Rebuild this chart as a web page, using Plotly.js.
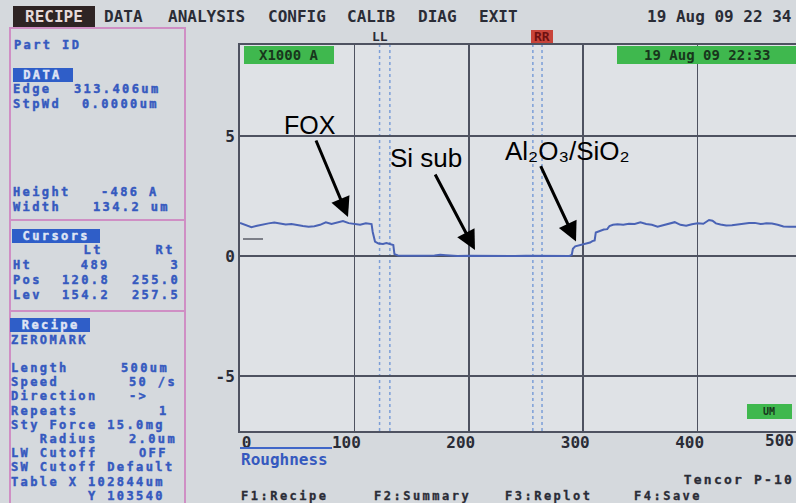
<!DOCTYPE html>
<html><head><meta charset="utf-8">
<script src="https://cdn.plot.ly/plotly-3.0.1.min.js"></script>
<style>html,body{margin:0;padding:0;background:#d5d9dd;overflow:hidden}</style>
</head><body><div id="chart" style="width:796px;height:503px"></div>
<script>
// ---- data ----
const profileX = [0,5,10,15,20,25,30,35,40,45,50,55,60,65,70,75,80,85,90,95,100,105,110,115,116,118,121,125,128,131,134,135,138,142,150,160,170,175,180,190,200,210,220,230,240,250,260,270,280,288,290,291,293,297,300,303,306,308,310,311,314,318,321,323,326,330,335,340,345,350,355,360,365,370,375,380,385,390,395,400,405,410,413,416,420,425,430,435,440,445,450,455,460,465,470,475,480,485,490];
const profileY = [1.38,1.30,1.20,1.26,1.32,1.36,1.40,1.35,1.31,1.33,1.28,1.25,1.22,1.24,1.30,1.40,1.33,1.38,1.46,1.37,1.34,1.30,1.36,1.33,1.00,0.60,0.52,0.50,0.54,0.50,0.46,0.08,0.02,0.01,0.00,0.01,0.02,0.05,0.03,0.00,0.01,0.00,0.01,0.00,0.00,0.01,0.00,0.01,0.00,0.00,0.05,0.30,0.40,0.44,0.47,0.52,0.56,0.62,0.65,0.98,1.04,1.10,1.12,1.25,1.30,1.32,1.30,1.34,1.33,1.40,1.33,1.30,1.22,1.28,1.37,1.41,1.30,1.26,1.32,1.36,1.34,1.50,1.47,1.36,1.31,1.27,1.28,1.32,1.34,1.37,1.38,1.33,1.36,1.35,1.30,1.23,1.22,1.23,1.22];
const xTickVals = [0,100,200,300,400];
const xTickText = ["\u00a0\u00a0\u00a00","100","200","300","400"];
const yTickVals = [-5,0,5];
const yTickText = ["-5","0","5"];
const cursorX = [122,131,256,264];
const cursorLabels = ["LL","RR"];
const calloutText = ["FOX","Si sub","Al\u2082O\u2083/SiO\u2082"];
const calloutHeadX = [94.4,205.4,293.7];
const calloutHeadY = [1.63,0.25,0.60];
const menuItems = ["RECIPE","DATA","ANALYSIS","CONFIG","CALIB","DIAG","EXIT"];
const dateText = "19 Aug 09 22 34";
const plotDate = "19 Aug 09 22:33";
const scaleLabel = "X1000 A";
const unitLabel = "UM";
const dataRows = [["Edge","313.406um"],["StpWd","0.0000um"]];
const sizeRows = [["Height","-486 A"],["Width","134.2 um"]];
const cursorRows = [["Ht","489","3"],["Pos","120.8","255.0"],["Lev","154.2","257.5"]];
const recipeName = "ZEROMARK";
const recipeRows = [["Length","500um"],["Speed","50 /s"],["Direction","->"],["Repeats","1"],["Sty Force 15.0mg",""],["   Radius","2.0um"],["LW Cutoff","OFF"],["SW Cutoff Default",""],["Table X 102844um",""],["        Y 103540",""]];
const fKeys = ["F1:Recipe","F2:Summary","F3:Replot","F4:Save"];

// ---- layout helpers (pixel -> paper) ----
const L=240, T=45, W=556, H=386;
const px = x => (x-L)/W;
const py = y => (T+H-y)/H;
const MONO = '"DejaVu Sans Mono", "Liberation Mono", monospace';
const BLUE = '#3559bf', DARK = '#2a2c36', GRID = '#4e5260';
function f(size,color,weight){return {family:MONO,size:size,color:color,weight:weight||'bold'};}
const spaced = []; // [annotation index, letter spacing px, stroke px]
const ann=[], shapes=[];
function txt(text,x,y,font,o,ls,sw){
  const a=Object.assign({xref:'paper',yref:'paper',x:px(x),y:py(y),text:text,showarrow:false,xanchor:'left',yanchor:'middle',font:font,borderpad:0},o||{});
  a.align=a.xanchor;
  if(ls||sw) spaced.push([ann.length,ls||0,sw||0]);
  ann.push(a);
}
function rect(x0,y0,x1,y1,fill,line){return {type:'rect',xref:'paper',yref:'paper',x0:px(x0),x1:px(x1),y0:py(y0),y1:py(y1),fillcolor:fill||'rgba(0,0,0,0)',line:line||{width:0},layer:'above'};}
function hline(x0,x1,y,color,w){return {type:'line',xref:'paper',yref:'paper',x0:px(x0),x1:px(x1),y0:py(y),y1:py(y),line:{color:color,width:w},layer:'above'};}

// cursor lines
cursorX.forEach(cx=>shapes.push({type:'line',xref:'x',yref:'paper',x0:cx,x1:cx,y0:0,y1:1,line:{color:'#7b9ed8',width:1.5,dash:'dot'},layer:'below'}));
// level marker
shapes.push(hline(243,263,239,'#7c7f88',2));
// menu
shapes.push(rect(13,6,95,28,'#2e2424'));
const menuX=[24,103,167,267,346,417,478];
menuItems.forEach((m,i)=>txt(m,menuX[i],17,f(16,i===0?'#e6dada':DARK)));
txt(dateText,793,17,f(16,DARK),{xanchor:'right'});
// LL / RR
txt(cursorLabels[0],380,37,f(13,DARK),{xanchor:'center'});
shapes.push(rect(531,30,553,43,'#c8443a'));
txt(cursorLabels[1],542,37,f(13,'#6e1010'),{xanchor:'center'});
// green boxes
shapes.push(rect(244,46,334,64,'#3fb84e'));
txt(scaleLabel,289,55,f(14,'#18361c'),{xanchor:'center'});
shapes.push(rect(617,46,797,64,'#3fb84e'));
txt(plotDate,707,55,f(14,'#18361c'),{xanchor:'center'});
shapes.push(rect(747,404,792,419,'#3fb84e'));
txt(unitLabel,769,411.5,f(10,'#18361c'),{xanchor:'center'});
// left panel
const PF=12, LS=2.4, SW=0.45;
shapes.push(rect(10,28,185,520,null,{color:'#cf8fc4',width:2}));
shapes.push(hline(10,185,220,'#cf8fc4',2));
shapes.push(hline(10,185,311,'#cf8fc4',2));
txt('Part ID',13,45,f(PF,BLUE),null,LS,SW);
shapes.push(rect(13,68,73,82,'#2f5ec8'));
txt('DATA',43,75,f(PF,'#dfe4f4'),{xanchor:'center'},LS,SW);
const dataValX=[73,81];
dataRows.forEach((r,i)=>{const y=89.5+14*i;txt(r[0],12,y,f(PF,BLUE),null,LS,SW);txt(r[1],dataValX[i],y,f(PF,BLUE),null,LS,SW);});
const sizeValX=[100,92];
sizeRows.forEach((r,i)=>{const y=192+14.5*i;txt(r[0],12,y,f(PF,BLUE),null,LS,SW);txt(r[1],sizeValX[i],y,f(PF,BLUE),null,LS,SW);});
shapes.push(rect(12,229,100,243,'#2f5ec8'));
txt('Cursors',56,236,f(PF,'#dfe4f4'),{xanchor:'center'},LS,SW);
txt('Lt',93,250,f(PF,BLUE),{xanchor:'center'},LS,SW);
txt('Rt',165,250,f(PF,BLUE),{xanchor:'center'},LS,SW);
cursorRows.forEach((r,i)=>{const y=265+15*i;txt(r[0],12,y,f(PF,BLUE),null,LS,SW);txt(r[1],111,y,f(PF,BLUE),{xanchor:'right'},LS,SW);txt(r[2],181,y,f(PF,BLUE),{xanchor:'right'},LS,SW);});
shapes.push(rect(10,318,90,332,'#2f5ec8'));
txt('Recipe',50,325,f(PF,'#dfe4f4'),{xanchor:'center'},LS,SW);
txt(recipeName,10,340,f(PF,BLUE),null,LS,SW);
const recipeValX=[120,128,128,158,0,128,138,0,0,0];
recipeRows.forEach((r,i)=>{const y=368+14.2*i;txt(r[0].replace(/ /g,'\u00a0'),10,y,f(PF,BLUE),null,LS,SW);if(r[1])txt(r[1],recipeValX[i],y,f(PF,BLUE),null,LS,SW);});
// bottom
shapes.push(hline(240,332,448,'#3f66c8',2));
txt('Roughness',240,459,f(16,BLUE));
txt('500',795,440,f(16,DARK),{xanchor:'right'});
txt('Tencor P-10',795,479,f(13,DARK),{xanchor:'right'},2.2,0.3);
const fX=[240,373,504,633];
fKeys.forEach((k,i)=>txt(k,fX[i],495.5,f(12,DARK),null,2.5,0.3));
// callouts: FOX and Si sub carry their own arrows; Al2O3/SiO2 arrow is separate
const calloutPos=[[309.5,125],[426.5,158],[567,151]];
const ARROW={showarrow:true,arrowhead:2,arrowsize:1.3,arrowwidth:3,arrowcolor:'#000',standoff:0,startstandoff:0};
const SANS={family:'"Liberation Sans", Arial, sans-serif',color:'#000'};
function headPx(i){return [240+calloutHeadX[i]*556/486, 256-calloutHeadY[i]*24];}
[0,1].forEach(i=>{
  const h=headPx(i);
  ann.push(Object.assign({xref:'x',yref:'y',x:calloutHeadX[i],y:calloutHeadY[i],ax:calloutPos[i][0]-h[0],ay:calloutPos[i][1]-h[1],text:calloutText[i],font:Object.assign({size:i===0?25:26},SANS),xanchor:'center',yanchor:'middle'},ARROW));
});
txt(calloutText[2],calloutPos[2][0],calloutPos[2][1],Object.assign({size:26},SANS),{xanchor:'center'});
ann.push(Object.assign({xref:'x',yref:'y',x:calloutHeadX[2],y:calloutHeadY[2],ax:-36,ay:-77,text:''},ARROW));

const trace={type:'scatter',mode:'lines',x:profileX,y:profileY,line:{color:'#4a63b5',width:2},hoverinfo:'skip'};
const layout={
  width:796,height:503,autosize:false,
  margin:{l:L,r:0,t:T,b:503-T-H,pad:0},
  paper_bgcolor:'#d5d9dd',plot_bgcolor:'#dfe2e6',
  showlegend:false,
  xaxis:{range:[0,486],tickvals:xTickVals,ticktext:xTickText,showgrid:true,gridcolor:GRID,gridwidth:1.5,zeroline:false,showline:true,linecolor:GRID,linewidth:2,mirror:true,ticks:'',tickfont:f(16,DARK),ticklabelshift:-8,ticklabelstandoff:-4,fixedrange:true},
  yaxis:{range:[-7.29,8.79],tickvals:yTickVals,ticktext:yTickText,showgrid:true,gridcolor:GRID,gridwidth:1.5,zeroline:false,showline:true,linecolor:GRID,linewidth:2,mirror:false,ticks:'',tickfont:f(16,DARK),fixedrange:true},
  shapes:shapes,annotations:ann
};
Plotly.newPlot('chart',[trace],layout,{displayModeBar:false,staticPlot:true}).then(gd=>{
  spaced.forEach(([i,ls,sw])=>{
    const g=gd.querySelector('g.annotation[data-index="'+i+'"]');
    if(!g) return;
    g.querySelectorAll('text').forEach(t=>{
      if(ls) t.style.letterSpacing=ls+'px';
      if(sw){t.style.stroke=t.style.fill;t.style.strokeWidth=sw+'px';}
    });
  });
  // drop empty placeholder text nodes (untitled axes, arrow-only annotation)
  gd.querySelectorAll('text').forEach(t=>{ if(!t.textContent.replace(/[\s\u200b]/g,'').length) t.remove(); });
});
</script></body></html>
